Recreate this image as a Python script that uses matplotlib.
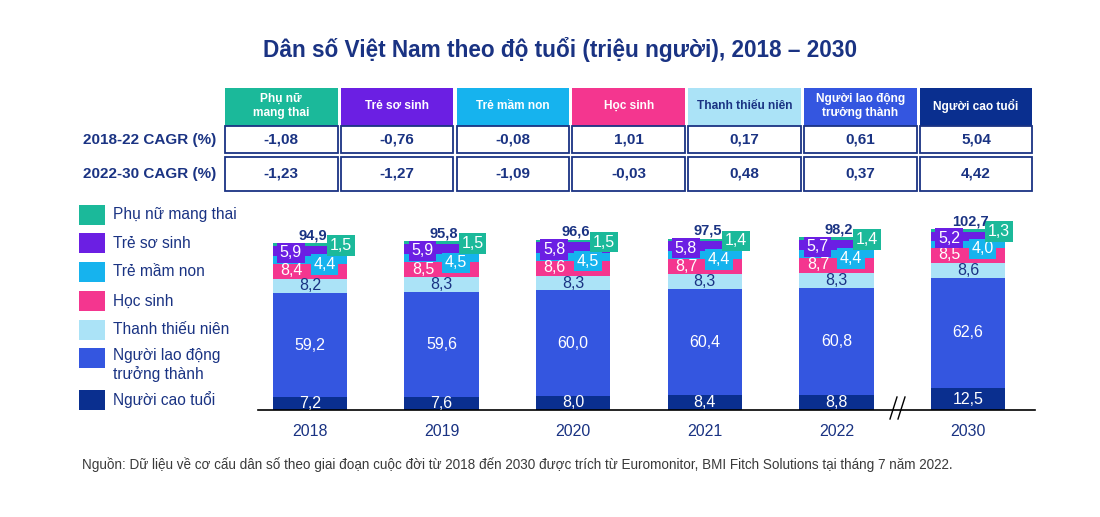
import matplotlib
matplotlib.use('Agg')
import matplotlib.pyplot as plt
from matplotlib.patches import Rectangle
import numpy as np

# ---------------- data ----------------
years = ['2018', '2019', '2020', '2021', '2022', '2030']
elderly = [7.2, 7.6, 8.0, 8.4, 8.8, 12.5]          # Người cao tuổi
adults = [59.2, 59.6, 60.0, 60.4, 60.8, 62.6]      # Người lao động trưởng thành
youth = [8.2, 8.3, 8.3, 8.3, 8.3, 8.6]             # Thanh thiếu niên
students = [8.4, 8.5, 8.6, 8.7, 8.7, 8.5]          # Học sinh
preschool = [4.4, 4.5, 4.5, 4.4, 4.4, 4.0]         # Trẻ mầm non
newborn = [5.9, 5.9, 5.8, 5.8, 5.7, 5.2]           # Trẻ sơ sinh
pregnant = [1.5, 1.5, 1.5, 1.4, 1.4, 1.3]          # Phụ nữ mang thai
totals = [94.9, 95.8, 96.6, 97.5, 98.2, 102.7]

header_labels = ['Phụ nữ\nmang thai', 'Trẻ sơ sinh', 'Trẻ mầm non', 'Học sinh',
                 'Thanh thiếu niên', 'Người lao động\ntrưởng thành', 'Người cao tuổi']
cagr_row_labels = ['2018-22 CAGR (%)', '2022-30 CAGR (%)']
cagr_2018_22 = [-1.08, -0.76, -0.08, 1.01, 0.17, 0.61, 5.04]
cagr_2022_30 = [-1.23, -1.27, -1.09, -0.03, 0.48, 0.37, 4.42]
legend_labels = ['Phụ nữ mang thai', 'Trẻ sơ sinh', 'Trẻ mầm non', 'Học sinh',
                 'Thanh thiếu niên', 'Người lao động\ntrưởng thành', 'Người cao tuổi']

title = 'Dân số Việt Nam theo độ tuổi (triệu người), 2018 – 2030'
source = ('Nguồn: Dữ liệu về cơ cấu dân số theo giai đoạn cuộc đời từ 2018 đến 2030 '
          'được trích từ Euromonitor, BMI Fitch Solutions tại tháng 7 năm 2022.')

# ---------------- style ----------------
C_PREG = '#1bb99a'
C_NEW = '#6b1fe3'
C_PRE = '#16b3ee'
C_STU = '#f4368f'
C_YOU = '#abe3f7'
C_ADU = '#3456e0'
C_ELD = '#0a2f8f'
NAVY = '#1a3383'
header_colors = [C_PREG, C_NEW, C_PRE, C_STU, C_YOU, C_ADU, C_ELD]
header_text_colors = ['white', 'white', 'white', 'white', NAVY, 'white', 'white']

F = ['Liberation Sans', 'DejaVu Sans']

W, H = 1100, 517
fig = plt.figure(figsize=(W / 100, H / 100), dpi=100)

# overlay axes in pixel coordinates
ov = fig.add_axes([0, 0, 1, 1])
ov.set_xlim(0, W)
ov.set_ylim(H, 0)
ov.axis('off')

def fmt(v, nd):
    return f'{v:.{nd}f}'.replace('.', ',')

# title
ov.text(560, 50, title, ha='center', va='center', fontsize=16.3, fontweight='bold',
        color=NAVY, family=F)

# table
col_x0 = 225
col_w = 112.5
col_step = 115.8
for i, lab in enumerate(header_labels):
    x0 = col_x0 + i * col_step
    ov.add_patch(Rectangle((x0, 88), col_w, 38, facecolor=header_colors[i], edgecolor='none'))
    ov.text(x0 + col_w / 2, 106, lab, ha='center', va='center', fontsize=8.6,
            fontweight='bold', color=header_text_colors[i], family=F, linespacing=1.3)
    for (y0, h, vals) in [(126, 27, cagr_2018_22), (157, 34, cagr_2022_30)]:
        ov.add_patch(Rectangle((x0, y0), col_w, h, facecolor='white',
                               edgecolor=NAVY, linewidth=1.3))
        ov.text(x0 + col_w / 2, y0 + h / 2, fmt(vals[i], 2), ha='center', va='center',
                fontsize=11, fontweight='bold', color=NAVY, family=F)
for j, lab in enumerate(cagr_row_labels):
    ov.text(216, [140, 174][j], lab, ha='right', va='center', fontsize=11,
            fontweight='bold', color=NAVY, family=F)

# legend
leg_colors = [C_PREG, C_NEW, C_PRE, C_STU, C_YOU, C_ADU, C_ELD]
leg_y = [215, 243, 272, 301, 330, 358, 400]
for c, lab, y in zip(leg_colors, legend_labels, leg_y):
    ov.add_patch(Rectangle((79, y - 10), 26, 20, facecolor=c, edgecolor='none'))
    if '\n' in lab:
        ov.text(113, y - 10, lab, ha='left', va='top', fontsize=11.2, color=NAVY,
                family=F, linespacing=1.2)
    else:
        ov.text(113, y, lab, ha='left', va='center', fontsize=11.2, color=NAVY, family=F)

# source
ov.text(82, 465, source, ha='left', va='center', fontsize=9.75, color='#3a3a3a', family=F)

# break marks on axis
for dx in (0, 8):
    ov.plot([890 + dx, 897 + dx], [419, 397], color='black', lw=1.0)

# ---------------- bars ----------------
ax_left, ax_right = 258, 1035
base_y, top_y = 410, 215
ax = fig.add_axes([ax_left / W, 1 - base_y / H, (ax_right - ax_left) / W, (base_y - top_y) / H])
ax.patch.set_alpha(0)
x = np.arange(len(years))
px_per_unit = 131.6
ax.set_xlim((ax_left - 310) / px_per_unit, (ax_right - 310) / px_per_unit)
ax.set_ylim(0, (base_y - top_y) / 1.76)
bw = 0.565

series = [elderly, adults, youth, students, preschool, newborn, pregnant]
colors = [C_ELD, C_ADU, C_YOU, C_STU, C_PRE, C_NEW, C_PREG]
bottom = np.zeros(len(years))
bottoms = []
for vals, c in zip(series, colors):
    vals = np.array(vals)
    ax.bar(x, vals, bw, bottom=bottom, color=c, edgecolor='none', linewidth=0)
    bottoms.append(bottom.copy())
    bottom = bottom + vals

for spine in ['top', 'right', 'left']:
    ax.spines[spine].set_visible(False)
ax.spines['bottom'].set_linewidth(1.2)
ax.spines['bottom'].set_color('black')
ax.set_yticks([])
ax.set_xticks(x)
ax.set_xticklabels(years, fontsize=11.5, color=NAVY, family=F)
ax.tick_params(axis='x', length=0, pad=10)

lab_kw = dict(ha='center', va='center', family=F, fontsize=11.5)
box = lambda c: dict(boxstyle='square,pad=0.17', facecolor=c, edgecolor='none')
for i in range(len(years)):
    el, ad, yo, st, pr, nb, pg = [s[i] for s in series]
    b = [bb[i] for bb in bottoms]
    ax.text(x[i], b[0] + el / 2, fmt(el, 1), color='white', **lab_kw)
    ax.text(x[i], b[1] + ad / 2, fmt(ad, 1), color='white', **lab_kw)
    ax.text(x[i], b[2] + yo / 2, fmt(yo, 1), color=NAVY, **lab_kw)
    ax.text(x[i] - 0.14, b[3] + st / 2 + 0.3, fmt(st, 1), color='white', **lab_kw)
    ax.text(x[i] + 0.11, b[4] + pr / 2 - 2.6, fmt(pr, 1), color='white', bbox=box(C_PRE), **lab_kw)
    ax.text(x[i] - 0.145, b[5] + nb / 2 - 1.1, fmt(nb, 1), color='white', bbox=box(C_NEW), **lab_kw)
    ax.text(x[i] + 0.235, b[6] + pg / 2 - 0.6, fmt(pg, 1), color='white', bbox=box(C_PREG), **lab_kw)
    ax.text(x[i] + 0.02, b[6] + pg + 4.6, fmt(totals[i], 1), ha='center', va='center',
            family=F, fontsize=10.5, fontweight='bold', color=NAVY)

fig.savefig('out.png', dpi=100)
